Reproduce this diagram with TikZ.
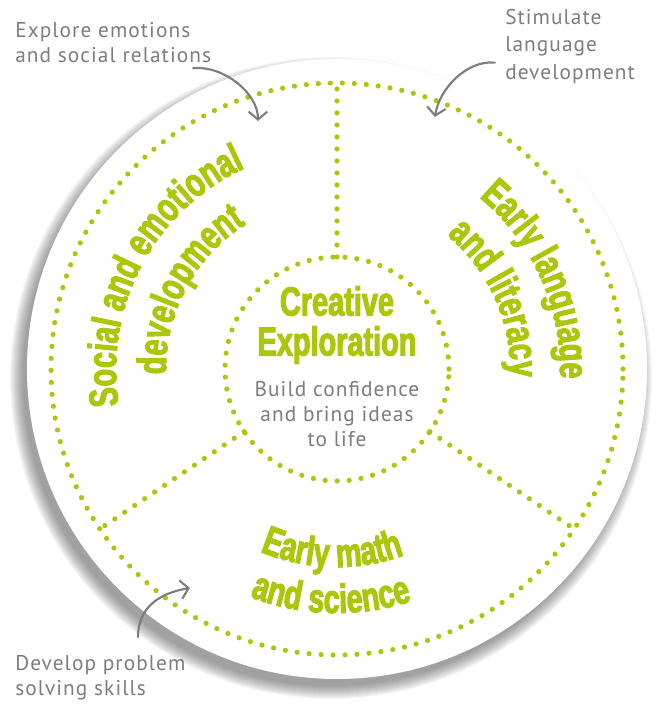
\documentclass[tikz,border=0pt]{standalone}
\usepackage{fontspec}
\setmainfont{PT Sans}
\newfontfamily\headfont[FakeStretch=0.71,FakeBold=2.6]{Liberation Sans}
\newfontfamily\handfont[LetterSpace=5]{PT Sans}
\usetikzlibrary{arrows.meta,calc,decorations.text}
\definecolor{leafgreen}{RGB}{170,199,10}
\definecolor{pencilgrey}{RGB}{125,125,125}
\definecolor{shadowgrey}{RGB}{50,50,50}
\newcommand\headfmt{\headfont\bfseries\fontsize{30.5}{30}\selectfont\color{leafgreen}}
\tikzset{
  dotline/.style={draw=leafgreen,line width=3.9pt,line cap=round,dash pattern=on 0pt off 9pt},
  note/.style={font=\handfont\fontsize{16}{19}\selectfont,text=pencilgrey,inner sep=0pt,align=left},
  pointer/.style={draw=pencilgrey,line width=1.6pt,line cap=round,
                  -{Straight Barb[length=6pt,width=14pt]}},
  arctext/.style={decorate,decoration={text along path,text align=center,text={#1}}},
}

\begin{document}
\begin{tikzpicture}[x=0.75pt,y=0.75pt]
  \useasboundingbox (0,0) rectangle (657,708);
  \coordinate (hub) at (337,339);

  % soft shadow and disc
  \foreach \k in {0,...,13}
    \fill[shadowgrey,opacity=0.045] ($(hub)+(-6,-9)$) circle[radius=308+\k];
  \fill[white] (hub) circle[radius=310];

  % dotted ring, centre and dividers
  \draw[dotline] (hub) circle[radius=286];
  \draw[dotline] (hub) circle[radius=112];
  \foreach \ang in {90,214,326}
    \draw[dotline] ($(hub)+(\ang:112)$) -- ($(hub)+(\ang:286)$);

  % centre
  \node[font=\headfmt,align=center,inner sep=0pt] (creative) at (337,383)
    {Creative\\Exploration};
  \node[note,align=center] (build) at (337,294)
    {Build confidence\\and bring ideas\\to life};

  % sector headings
  \path[arctext={|\headfmt|Social and emotional}]
    ($(hub)+(212:221)$) arc[start angle=212,end angle=92,radius=221];
  \path[arctext={|\headfmt|development}]
    ($(hub)+(212:171)$) arc[start angle=212,end angle=92,radius=171];
  \path[arctext={|\headfmt|Early language}]
    ($(hub)+(84:223)$) arc[start angle=84,end angle=-36,radius=223];
  \path[arctext={|\headfmt|and literacy}]
    ($(hub)+(84:173)$) arc[start angle=84,end angle=-36,radius=173];
  \path[arctext={|\headfmt|Early math}]
    ($(hub)+(218.5:198)$) arc[start angle=218.5,end angle=318.5,radius=198];
  \path[arctext={|\headfmt|and science}]
    ($(hub)+(218.5:244)$) arc[start angle=218.5,end angle=318.5,radius=244];

  % notes
  \node[note,anchor=north west] (explore) at (15,686)
    {Explore emotions\\and social relations};
  \node[note,anchor=north west,font=\handfont\fontsize{16}{20.5}\selectfont] (stimulate) at (505,699)
    {Stimulate\\language\\development};
  \node[note,anchor=north west] (develop) at (15,53)
    {Develop problem\\solving skills};

  \coordinate (exploretip) at (258,587);
  \coordinate (stimulatetip) at (435,591);
  \coordinate (developtip) at (190,120);
  \draw[pointer] ($(explore.south east)+(-18,-5)$) .. controls +(30,3) and +(0,28) .. (exploretip);
  \draw[pointer] ($(stimulate.south west)+(-10,21)$) .. controls +(-28,3) and +(4,28) .. (stimulatetip);
  \draw[pointer] ($(develop.north west)+(123,18)$) .. controls +(0,30) and +(-30,-5) .. (developtip);
\end{tikzpicture}
\end{document}
